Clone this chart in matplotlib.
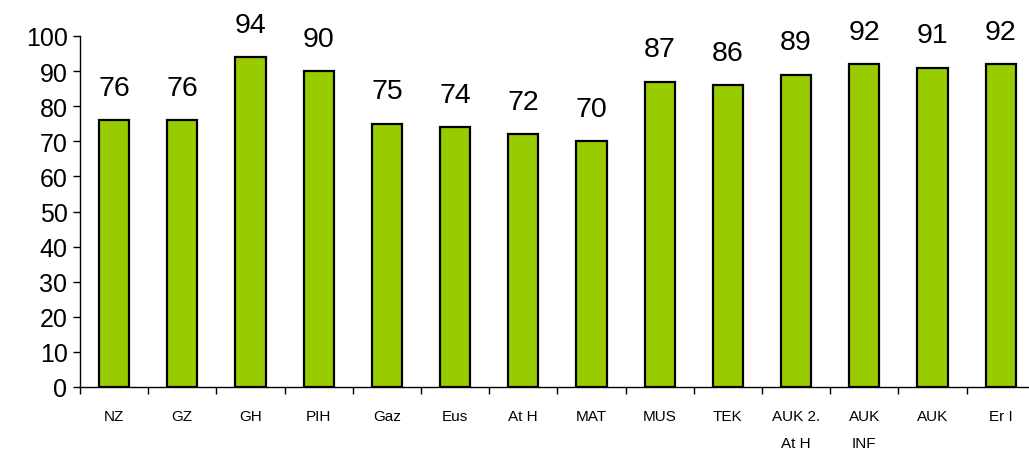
import matplotlib
matplotlib.use('Agg')
import matplotlib.pyplot as plt
import numpy as np

plt.rcParams['font.family'] = ['Liberation Sans', 'DejaVu Sans']

categories = ['NZ', 'GZ', 'GH', 'PIH', 'Gaz', 'Eus', 'At H', 'MAT', 'MUS', 'TEK',
              'AUK 2.\nAt H', 'AUK\nINF', 'AUK', 'Er I', '']
values = [76, 76, 94, 90, 75, 74, 72, 70, 87, 86, 89, 92, 91, 92]

fig = plt.figure(figsize=(10.29, 4.52), dpi=100)
# axes runs past the right edge, the last category is cut off like the original
ax = fig.add_axes([80/1029, 64/452, 15*68.2/1029, 351/452])

x = np.arange(len(values))
ax.bar(x, values, width=0.44, color='#99CC00', edgecolor='black', linewidth=1.6, zorder=2)

for xi, v in zip(x, values):
    ax.text(xi, v + 7.2, str(v), ha='center', va='baseline', fontsize=20.5)

ax.set_xlim(-0.5, len(categories) - 0.5)
ax.set_ylim(0, 100)
ax.set_yticks(range(0, 101, 10))
ax.tick_params(axis='y', labelsize=18, length=5, width=1, direction='out', pad=4)

ax.set_xticks(np.arange(len(categories)))
ax.set_xticklabels(categories, fontsize=11, linespacing=2.2, va='top')
ax.set_xticks(np.arange(len(categories) + 1) - 0.5, minor=True)
ax.tick_params(axis='x', which='major', length=0, pad=16)
ax.tick_params(axis='x', which='minor', length=5, width=1, direction='out')

for s in ['top', 'right']:
    ax.spines[s].set_visible(False)
ax.spines['left'].set_linewidth(1)
ax.spines['bottom'].set_linewidth(1)

fig.savefig('out.png', dpi=100)
